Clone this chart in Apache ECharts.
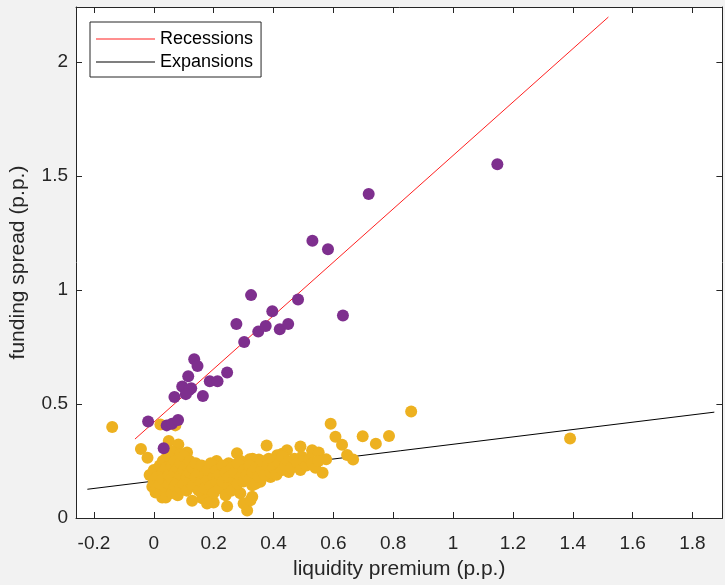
<!DOCTYPE html>
<html>
<head>
<meta charset="utf-8">
<script src="https://cdn.jsdelivr.net/npm/echarts@6/dist/echarts.min.js"></script>
<style>
  html, body { margin: 0; padding: 0; background: #f2f2f2; }
  #chart { width: 725px; height: 585px; }
</style>
</head>
<body>
<div id="chart"></div>
<script>
// tick positions
const xTicks = [-0.2, 0, 0.2, 0.4, 0.6, 0.8, 1, 1.2, 1.4, 1.6, 1.8];
const yTicks = [0, 0.5, 1, 1.5, 2];

// fitted lines (end points)
const recessionLine = [[-0.063, 0.346], [1.519, 2.196]];
const expansionLine = [[-0.222, 0.126], [1.873, 0.464]];

// recession observations [liquidity premium, funding spread]
const recessionPts = [
  [1.148, 1.551], [0.718, 1.420], [0.530, 1.215], [0.582, 1.178], [0.325, 0.977],
  [0.482, 0.958], [0.396, 0.906], [0.276, 0.850], [0.632, 0.888], [0.349, 0.817],
  [0.374, 0.842], [0.421, 0.827], [0.449, 0.850], [0.302, 0.772], [0.135, 0.696],
  [0.146, 0.666], [0.245, 0.638], [0.115, 0.621], [0.187, 0.599], [0.213, 0.599],
  [0.095, 0.576], [0.125, 0.569], [0.117, 0.560], [0.107, 0.543], [0.069, 0.530],
  [0.164, 0.535], [-0.019, 0.423], [0.043, 0.406], [0.061, 0.413], [0.081, 0.430],
  [0.033, 0.306]
];

// expansion observations [liquidity premium, funding spread]
const expansionPts = [
  [-0.139, 0.399], [-0.043, 0.302], [-0.021, 0.264], [0.022, 0.410], [0.072, 0.406],
  [0.050, 0.338], [0.082, 0.322], [0.111, 0.287], [0.278, 0.284], [0.377, 0.318],
  [0.490, 0.313], [0.591, 0.413], [0.607, 0.356], [0.629, 0.321], [0.646, 0.276],
  [0.666, 0.256], [0.320, 0.257], [0.564, 0.198], [0.128, 0.076], [0.167, 0.089],
  [0.200, 0.068], [0.245, 0.051], [0.312, 0.033], [0.289, 0.108], [0.329, 0.093],
  [0.300, 0.064], [0.323, 0.078], [0.028, 0.090], [0.006, 0.112], [-0.014, 0.188],
  [-0.005, 0.137], [0.860, 0.467], [0.698, 0.358], [0.742, 0.326], [0.786, 0.359],
  [1.391, 0.348], [0.529, 0.297], [0.551, 0.287], [0.576, 0.257], [0.501, 0.239],
  [0.537, 0.234], [0.445, 0.297], [0.429, 0.282], [0.412, 0.275], [0.351, 0.256],
  [0.384, 0.260], [0.451, 0.202], [0.390, 0.180], [0.356, 0.159], [0.329, 0.144],
  [0.184, 0.086], [0.162, 0.086], [0.178, 0.064], [0.495, 0.268], [0.518, 0.253],
  [0.06, 0.29], [0.09, 0.28], [0.04, 0.26], [0.21, 0.25], [0.25, 0.24],
  [0.33, 0.26], [0.29, 0.25],
  [-0.01, 0.19], [0.00, 0.16], [0.00, 0.21], [0.01, 0.13], [0.01, 0.18],
  [0.02, 0.23], [0.02, 0.11], [0.02, 0.15], [0.03, 0.20], [0.03, 0.17],
  [0.03, 0.25], [0.04, 0.13], [0.04, 0.09], [0.04, 0.22], [0.05, 0.15],
  [0.05, 0.19], [0.05, 0.27], [0.06, 0.11], [0.06, 0.17], [0.06, 0.23],
  [0.07, 0.14], [0.07, 0.20], [0.07, 0.25], [0.08, 0.10], [0.08, 0.16],
  [0.08, 0.22], [0.09, 0.13], [0.09, 0.19], [0.09, 0.24], [0.10, 0.15],
  [0.10, 0.21], [0.10, 0.27], [0.11, 0.12], [0.11, 0.18], [0.11, 0.23],
  [0.12, 0.16], [0.12, 0.20], [0.12, 0.25], [0.13, 0.14], [0.13, 0.22],
  [0.14, 0.18], [0.14, 0.24], [0.15, 0.12], [0.15, 0.20], [0.16, 0.16],
  [0.16, 0.23], [0.17, 0.13], [0.17, 0.19], [0.18, 0.17], [0.18, 0.21],
  [0.19, 0.14], [0.19, 0.24], [0.20, 0.18], [0.20, 0.11], [0.21, 0.16],
  [0.21, 0.21], [0.22, 0.13], [0.22, 0.19], [0.23, 0.23], [0.23, 0.16],
  [0.24, 0.10], [0.24, 0.20], [0.25, 0.14], [0.25, 0.18], [0.26, 0.22],
  [0.26, 0.12], [0.27, 0.17], [0.27, 0.20], [0.28, 0.15], [0.28, 0.24],
  [0.29, 0.18], [0.30, 0.21], [0.30, 0.16], [0.31, 0.19], [0.32, 0.23],
  [0.32, 0.17], [0.33, 0.20], [0.34, 0.15], [0.34, 0.22], [0.35, 0.18],
  [0.36, 0.21], [0.36, 0.25], [0.37, 0.19], [0.38, 0.23], [0.39, 0.20],
  [0.40, 0.25], [0.40, 0.22], [0.41, 0.19], [0.42, 0.24], [0.43, 0.21],
  [0.43, 0.27], [0.44, 0.23], [0.45, 0.25], [0.46, 0.22], [0.47, 0.26],
  [0.48, 0.24], [0.49, 0.21], [0.50, 0.25], [0.51, 0.23], [0.52, 0.26],
  [0.53, 0.24], [0.54, 0.22], [0.55, 0.25]
];

const font = '"Liberation Sans", Arial, Helvetica, sans-serif';
const axisColor = '#262626';

let myChart = echarts.init(document.getElementById('chart'));

const tickStyle = {
  inside: true,
  length: 6,
  lineStyle: { color: axisColor, width: 1 }
};

myChart.setOption({
  backgroundColor: '#f2f2f2',
  animation: false,
  textStyle: { fontFamily: font },
  grid: {
    left: 75,
    right: 2.6,
    top: 7,
    bottom: 65,
    show: true,
    backgroundColor: '#ffffff',
    borderWidth: 0
  },
  legend: {
    data: ['Recessions', 'Expansions'],
    orient: 'vertical',
    left: 90,
    top: 22,
    padding: [8, 8, 6, 6],
    itemGap: 5,
    itemWidth: 59,
    itemHeight: 1,
    icon: 'rect',
    backgroundColor: '#ffffff',
    borderColor: axisColor,
    borderWidth: 1,
    borderRadius: 0,
    selectedMode: false,
    textStyle: {
      fontFamily: font,
      fontSize: 18,
      lineHeight: 18,
      color: '#000'
    }
  },
  xAxis: [{
    type: 'value',
    min: -0.26,
    max: 1.9,
    name: 'liquidity premium (p.p.)',
    nameLocation: 'middle',
    nameGap: 41,
    nameTextStyle: { fontFamily: font, fontSize: 21, color: axisColor },
    axisLine: { show: true, onZero: false, lineStyle: { color: axisColor, width: 1 } },
    axisTick: Object.assign({ customValues: xTicks }, tickStyle),
    axisLabel: {
      customValues: xTicks,
      fontFamily: font,
      fontSize: 19,
      color: axisColor,
      margin: 16
    },
    splitLine: { show: false }
  }, {
    type: 'value',
    position: 'top',
    min: -0.26,
    max: 1.9,
    axisLine: { show: true, onZero: false, lineStyle: { color: axisColor, width: 1 } },
    axisTick: Object.assign({ customValues: xTicks }, tickStyle),
    axisLabel: { show: false },
    splitLine: { show: false }
  }],
  yAxis: [{
    type: 'value',
    min: 0,
    max: 2.24,
    name: 'funding spread (p.p.)',
    nameLocation: 'middle',
    nameGap: 47,
    nameTextStyle: { fontFamily: font, fontSize: 21, color: axisColor },
    axisLine: { show: true, onZero: false, lineStyle: { color: axisColor, width: 1 } },
    axisTick: Object.assign({ customValues: yTicks }, tickStyle),
    axisLabel: {
      customValues: yTicks,
      fontFamily: font,
      fontSize: 19,
      color: axisColor,
      margin: 8
    },
    splitLine: { show: false }
  }, {
    type: 'value',
    position: 'right',
    min: 0,
    max: 2.24,
    axisLine: { show: true, onZero: false, lineStyle: { color: axisColor, width: 1 } },
    axisTick: Object.assign({ customValues: yTicks }, tickStyle),
    axisLabel: { show: false },
    splitLine: { show: false }
  }],
  series: [{
      name: 'Recessions',
      type: 'line',
      data: recessionLine,
      symbol: 'none',
      z: 1,
      lineStyle: { color: '#ff2020', width: 1 },
      itemStyle: { color: '#ff2020' }
    },
    {
      name: 'Expansions',
      type: 'line',
      data: expansionLine,
      symbol: 'none',
      z: 1,
      lineStyle: { color: '#000000', width: 1 },
      itemStyle: { color: '#000000' }
    },
    {
      name: 'expansion obs',
      type: 'scatter',
      data: expansionPts,
      symbolSize: 12,
      z: 3,
      itemStyle: { color: '#EDB120', opacity: 1 }
    },
    {
      name: 'recession obs',
      type: 'scatter',
      data: recessionPts,
      symbolSize: 12,
      z: 4,
      itemStyle: { color: '#7E2F8E', opacity: 1 }
    }
  ]
});
window.onresize = myChart.resize;
</script>
</body>
</html>
